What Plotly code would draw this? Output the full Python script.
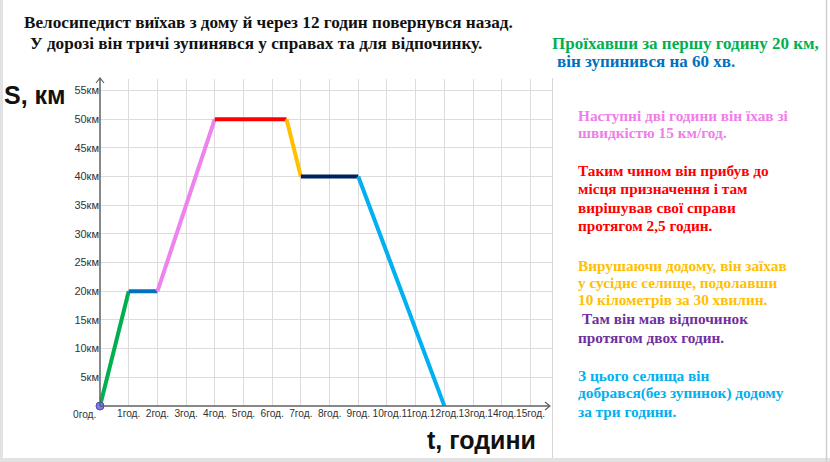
import plotly.graph_objects as go

# ---- data ----
hours = [0, 1, 2, 4, 6.5, 7, 9, 12]
distance_km = [0, 20, 20, 50, 50, 40, 40, 0]
segment_colors = ["#00b050", "#0070c0", "#ee82ee", "#ff0000", "#ffc000", "#002060", "#00b0f0"]
x_ticks = list(range(1, 16))
x_tick_labels = [f"{h}год." for h in x_ticks]
y_ticks = list(range(5, 60, 5))
y_tick_labels = [f"{v}км" for v in y_ticks]

W, H = 830, 462
def px(x):
    return x / W
def py(y):
    return 1 - y / H

fig = go.Figure()
for i in range(len(hours) - 1):
    fig.add_trace(go.Scatter(
        x=hours[i:i + 2], y=distance_km[i:i + 2], mode="lines",
        line=dict(color=segment_colors[i], width=4), hoverinfo="skip", showlegend=False))
fig.add_trace(go.Scatter(
    x=hours[:1], y=distance_km[:1], mode="markers",
    marker=dict(color="#7b7bef", size=8, line=dict(color="#4a4ab0", width=1)),
    showlegend=False, hoverinfo="skip", cliponaxis=False))

xtickfont = dict(family="Liberation Sans, Arial", size=10.2, color="#333")
ytickfont = dict(family="Liberation Sans, Arial", size=11, color="#333")
fig.update_layout(
    width=W, height=H, margin=dict(l=0, r=0, t=0, b=0),
    paper_bgcolor="white", plot_bgcolor="white",
    xaxis=dict(domain=[px(100), px(552)], range=[0, 15.75], tickvals=x_ticks, ticktext=x_tick_labels,
               tickangle=0, showgrid=True, gridcolor="#dcdcdc", gridwidth=1, zeroline=False,
               showline=False, ticks="", tickfont=xtickfont, fixedrange=True),
    yaxis=dict(domain=[py(406), py(79)], range=[0, 57], tickvals=y_ticks, ticktext=y_tick_labels,
               showgrid=True, gridcolor="#dcdcdc", gridwidth=1, zeroline=False,
               showline=False, ticks="", tickfont=ytickfont, fixedrange=True),
    showlegend=False,
)

shapes = []
# slide frame
shapes.append(dict(type="rect", xref="paper", yref="paper", x0=0, x1=px(3), y0=0, y1=1,
                   fillcolor="#e2e2e2", line=dict(width=0), layer="below"))
shapes.append(dict(type="rect", xref="paper", yref="paper", x0=0, x1=1, y0=0, y1=py(458),
                   fillcolor="#e2e2e2", line=dict(width=0), layer="below"))
shapes.append(dict(type="line", xref="paper", yref="paper", x0=px(826.5), x1=px(826.5), y0=0, y1=1,
                   line=dict(color="#d0d0d0", width=1.5)))
# chart picture border
shapes.append(dict(type="line", xref="paper", yref="paper", x0=px(552.5), x1=px(552.5), y0=py(458), y1=py(78),
                   line=dict(color="#d6d6d6", width=1)))
# axes
axis_col = "#606060"
shapes.append(dict(type="line", xref="paper", yref="paper", x0=px(100), x1=px(550), y0=py(406), y1=py(406),
                   line=dict(color=axis_col, width=1.5)))
shapes.append(dict(type="line", xref="paper", yref="paper", x0=px(100), x1=px(100), y0=py(406), y1=py(78),
                   line=dict(color=axis_col, width=1.5)))
# arrow heads
shapes.append(dict(type="path", xref="paper", yref="paper",
                   path=f"M {px(545)} {py(402)} L {px(550)} {py(406)} L {px(545)} {py(410)}",
                   line=dict(color=axis_col, width=1.2)))
shapes.append(dict(type="path", xref="paper", yref="paper",
                   path=f"M {px(96)} {py(83)} L {px(100)} {py(78)} L {px(104)} {py(83)}",
                   line=dict(color=axis_col, width=1.2)))
fig.update_layout(shapes=shapes)

serif = "Liberation Serif, Times New Roman, serif"
sans = "Liberation Sans, Arial, sans-serif"
ann = []
def text(x, y, t, color, size, family=serif, anchor="left"):
    ann.append(dict(x=px(x), y=py(y), xref="paper", yref="paper", text=t, showarrow=False,
                    xanchor=anchor, yanchor="middle", align="left",
                    font=dict(family=family, size=size, color=color)))

text(22, 22, "<b>Велосипедист виїхав з дому й через 12 годин повернувся назад.</b>", "#111", 17.2)
text(28, 43, "<b>У дорозі він тричі зупинявся у справах та для відпочинку.</b>", "#111", 17.2)
text(550, 43, "<b>Проїхавши за першу годину 20 км,</b>", "#00b050", 17)
text(555, 61, "<b>він зупинився на 60 хв.</b>", "#0070c0", 17)

text(2, 95, "<b>S, км</b>", "#111", 25, sans)
text(425, 440, "<b>t, години</b>", "#111", 25, sans)
text(84, 414, "0год.", "#333", 10.2, sans, "center")

pink, red, orange, purple, lblue = "#f07ee8", "#ff0000", "#ffc000", "#7030a0", "#00b0f0"
lines = [
    (115, "Наступні дві години він їхав зі", pink, 576),
    (133, "швидкістю 15 км/год.", pink, 576),
    (170, "Таким чином він прибув до", red, 576),
    (188, "місця призначення і там", red, 576),
    (207, "вирішував свої справи", red, 576),
    (225, "протягом 2,5 годин.", red, 576),
    (265, "Вирушаючи додому, він заїхав", orange, 576),
    (282, "у сусіднє селище, подолавши", orange, 576),
    (299, "10 кілометрів за 30 хвилин.", orange, 576),
    (318, "Там він мав відпочинок", purple, 580),
    (337, "протягом двох годин.", purple, 576),
    (375, "З цього селища він", lblue, 576),
    (393, "добрався(без зупинок) додому", lblue, 576),
    (411, "за три години.", lblue, 576),
]
for y, t, c, x in lines:
    text(x, y, f"<b>{t}</b>", c, 15.3)

fig.update_layout(annotations=ann)
fig.write_html("out.html")
